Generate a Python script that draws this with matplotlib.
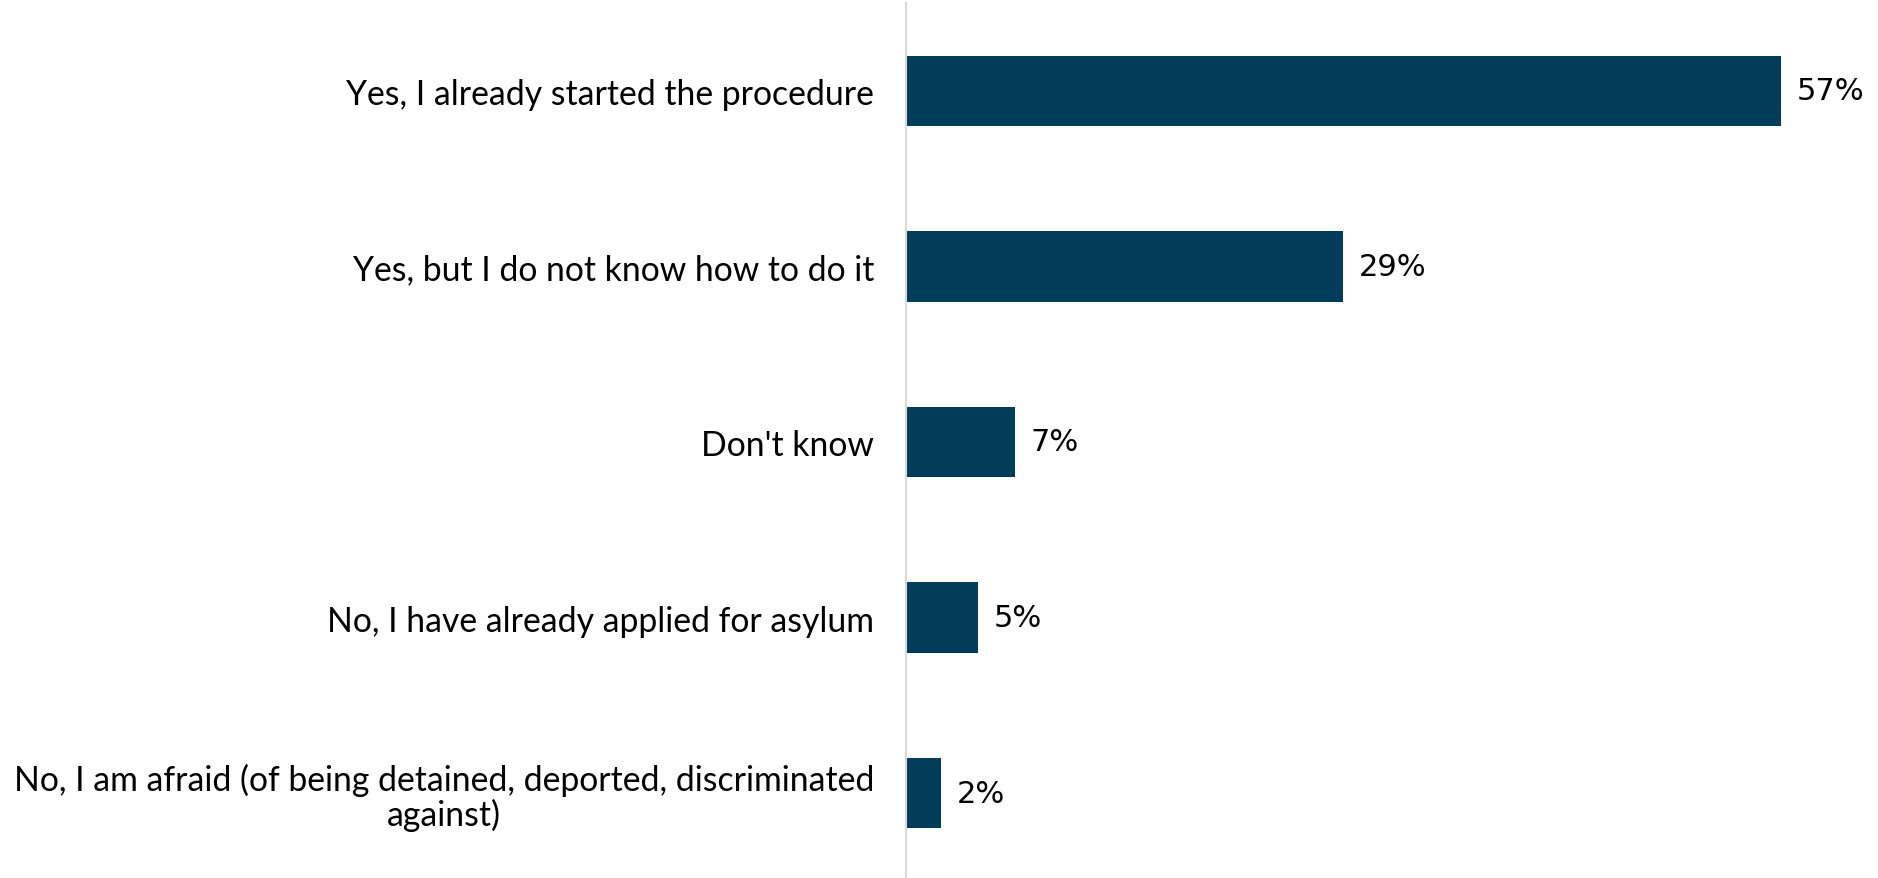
import matplotlib.pyplot as plt

# Data
categories = [
    "Yes, I already started the procedure",
    "Yes, but I do not know how to do it",
    "Don't know",
    "No, I have already applied for asylum",
    "No, I am afraid (of being detained, deported, discriminated\nagainst)",
]
values = [57.0, 28.5, 7.1, 4.7, 2.3]
value_labels = ["57%", "29%", "7%", "5%", "2%"]

bar_color = "#003d5a"
W, H = 1878, 879

plt.rcParams['font.family'] = ['Lato', 'DejaVu Sans']

fig = plt.figure(figsize=(W / 100, H / 100), dpi=100)
# axes spans from the vertical axis line to the right edge
ax = fig.add_axes([906 / W, 0, 1 - 906 / W, 1 - 4 / H])

pos = list(range(len(categories)))
ax.barh(pos, values, height=0.4, color=bar_color)
ax.set_xlim(0, (W - 906) / 15.35)
ax.set_ylim(4.484, -0.501)

for y, v, lab in zip(pos, values, value_labels):
    ax.annotate(lab, (v, y), xytext=(11, 0), textcoords='offset points',
                va='center', ha='left', fontsize=22, color='black',
                family='DejaVu Sans')

ax.set_yticks(pos)
ax.set_yticklabels(categories, fontsize=24.3, multialignment='center',
                   linespacing=1.07)
ax.tick_params(axis='y', length=0, pad=23)
ax.set_xticks([])

for s in ['top', 'right', 'bottom']:
    ax.spines[s].set_visible(False)
ax.spines['left'].set_color('#d9d9d9')
ax.spines['left'].set_linewidth(1.5)

fig.savefig('out.png', dpi=100)
